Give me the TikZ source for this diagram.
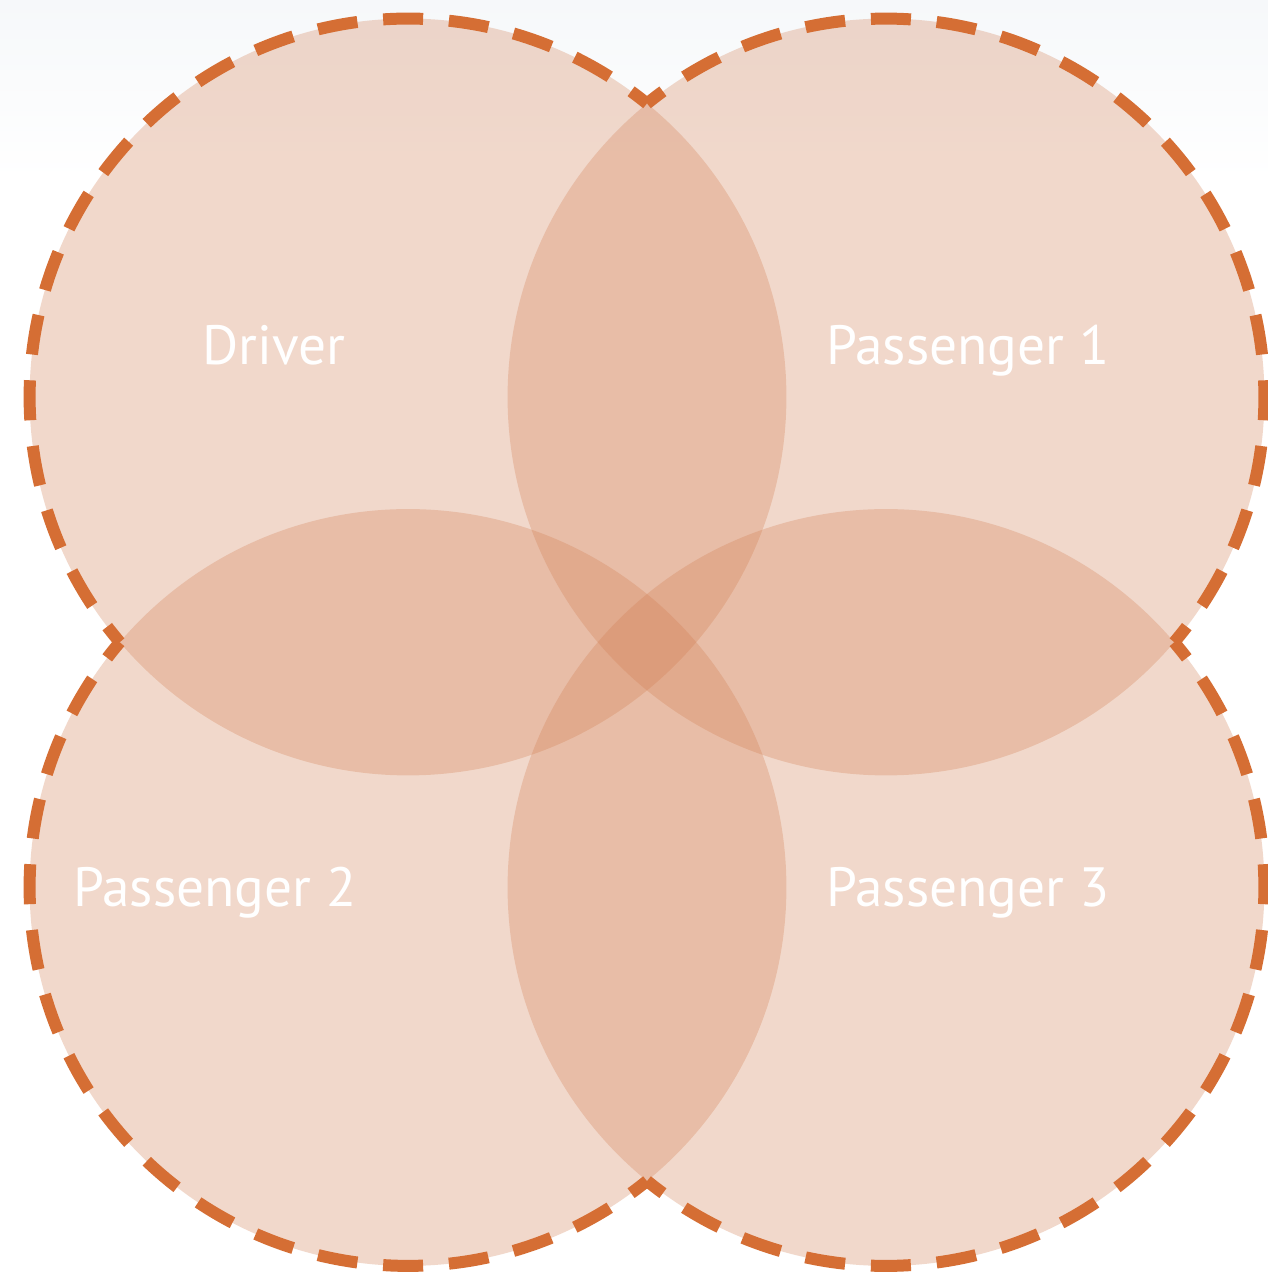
\documentclass[tikz,border=0pt]{standalone}
\usepackage{fontspec}
\setmainfont{PT Sans}
\definecolor{vfill}{RGB}{210,124,79}
\definecolor{vdash}{RGB}{213,110,52}
\definecolor{topgray}{RGB}{246,248,250}
\begin{document}
\begin{tikzpicture}[x=0.02cm,y=0.02cm,
  disc/.style={fill=vfill, fill opacity=0.29},
  rim/.style={draw=vdash, line width=0.24cm, line cap=butt,
    dash pattern=on 0.8cm off 0.5177cm, dash phase=0.4cm},
  lbl/.style={text=white, inner sep=0pt, anchor=base west,
    font=\fontsize{31.5}{38}\selectfont}]
\useasboundingbox (0,0) rectangle (1268,1275);
\fill[white] (0,0) rectangle (1268,1275);
\shade[top color=topgray, bottom color=white] (0,1275) rectangle (1268,1095);
% circle centres
\coordinate (c1) at (408,878);
\coordinate (c2) at (886,878);
\coordinate (c3) at (408,387.5);
\coordinate (c4) at (886,387.5);
% fills
\fill[disc] (c1) circle[radius=7.57cm];
\fill[disc] (c2) circle[radius=7.57cm];
\fill[disc] (c3) circle[radius=7.57cm];
\fill[disc] (c4) circle[radius=7.57cm];
% dashed outer rims
\draw[rim] (c1) ++(50.85:7.57cm) arc[start angle=50.85, end angle=220.39, radius=7.57cm];
\draw[rim] (c2) ++(-40.39:7.57cm) arc[start angle=-40.39, end angle=129.15, radius=7.57cm];
\draw[rim] (c3) ++(139.61:7.57cm) arc[start angle=139.61, end angle=309.15, radius=7.57cm];
\draw[rim] (c4) ++(230.85:7.57cm) arc[start angle=230.85, end angle=400.39, radius=7.57cm];
% labels
\node[lbl] (driver) at (202,910) {Driver};
\node[lbl] (p1) at (826,910) {Passenger 1};
\node[lbl] (p2) at (73,368) {Passenger 2};
\node[lbl] (p3) at (826,368) {Passenger 3};
\end{tikzpicture}
\end{document}
